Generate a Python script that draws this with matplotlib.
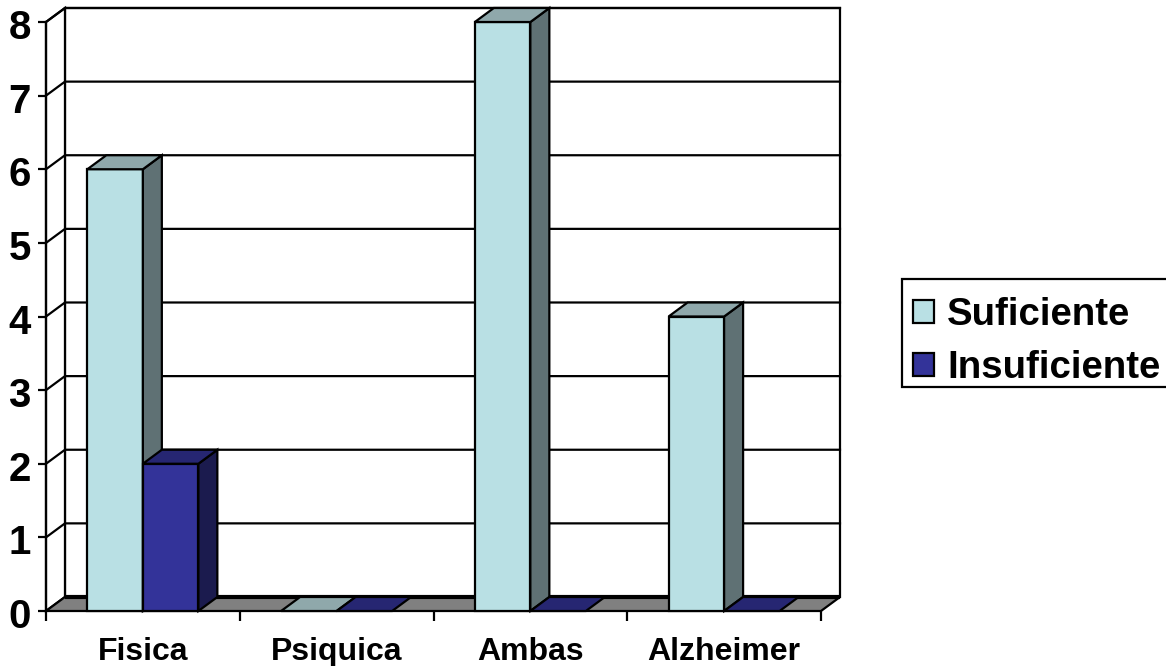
"""Clustered 3D-look column chart drawn on a plain 2D axes."""

import matplotlib
matplotlib.use("Agg")
import numpy as np
import matplotlib.pyplot as plt
from matplotlib.patches import Patch, Polygon, Rectangle
from matplotlib.transforms import ScaledTranslation

categories = ["Fisica", "Psiquica", "Ambas", "Alzheimer"]
series_names = ["Suficiente", "Insuficiente"]
suficiente = [6, 0, 8, 4]
insuficiente = [2, 0, 0, 0]
y_ticks = [0, 1, 2, 3, 4, 5, 6, 7, 8]

W, H = 1166, 666
# depth offset of the back wall, in data units
DX = 19 / 194
DY = 14 / 73.6
BAR_W = 0.2865
EDGE = "black"
LW = 1.6

plt.rcParams["font.family"] = ["Liberation Sans", "DejaVu Sans"]
plt.rcParams["font.weight"] = "bold"

fig = plt.figure(figsize=(W / 100, H / 100), dpi=100)
ax = fig.add_axes([46 / W, 1 - 611 / H, (821 - 46) / W, (611 - 22) / H])
ax.set_xlim(0, 4)
ax.set_ylim(0, 8)
ax.patch.set_visible(False)
for s in ["top", "right", "bottom"]:
    ax.spines[s].set_visible(False)
ax.spines["left"].set_linewidth(LW)


def poly(points, color, z=3, lw=LW):
    ax.add_patch(Polygon(points, closed=True, facecolor=color, edgecolor=EDGE,
                         linewidth=lw, zorder=z, clip_on=False,
                         joinstyle="miter"))


# walls and floor
poly([(DX, DY), (4 + DX, DY), (4 + DX, 8 + DY), (DX, 8 + DY)], "white", z=1)
poly([(0, 0), (DX, DY), (DX, 8 + DY), (0, 8)], "white", z=1)
poly([(0, 0), (4, 0), (4 + DX, DY), (DX, DY)], "#808080", z=1)
ax.plot([DX, 4 + DX], [DY, DY], color=EDGE, lw=3, zorder=1.5,
        solid_capstyle="butt", clip_on=False)

# gridlines run along the side wall and across the back wall
for v in y_ticks[1:]:
    ax.plot([0, DX, 4 + DX], [v, v + DY, v + DY], color=EDGE, lw=LW, zorder=2,
            clip_on=False)


def column(x, v, front, top, side, z):
    if v > 0:
        ax.add_patch(Rectangle((x, 0), BAR_W, v, facecolor=front, edgecolor=EDGE,
                               linewidth=LW, zorder=z, clip_on=False))
        poly([(x + BAR_W, 0), (x + BAR_W + DX, DY), (x + BAR_W + DX, v + DY),
              (x + BAR_W, v)], side, z=z)
    poly([(x, v), (x + BAR_W, v), (x + BAR_W + DX, v + DY), (x + DX, v + DY)],
         top, z=z)


light = ("#B9E0E4", "#8FA8AB", "#5F7174")
dark = ("#333399", "#262672", "#1B1B4E")
xs = np.arange(len(categories))
for i in xs:
    x0 = i + 0.5 - BAR_W
    column(x0, suficiente[i], *light, z=3)
    column(x0 + BAR_W, insuficiente[i], *dark, z=4)

ax.set_yticks(y_ticks)
ax.set_xticks(range(len(categories) + 1))
ax.set_xticklabels([])
ax.set_xticks(xs + 0.5, categories, minor=True)
ax.tick_params(axis="y", length=6, width=LW, labelsize=29, pad=5)
ax.tick_params(axis="x", which="major", length=7, width=LW)
ax.tick_params(axis="x", which="minor", length=0, labelsize=23, pad=19)

# digits sit a little below their ticks
nudge = ScaledTranslation(0, -2 / 100, fig.dpi_scale_trans)
for lab in ax.get_yticklabels():
    lab.set_transform(lab.get_transform() + nudge)

# legend box runs off the right edge, so it is drawn apart from the entries
fig.add_artist(Rectangle((902 / W, 1 - 387 / H), 300 / W, 108 / H,
                         transform=fig.transFigure, facecolor="white",
                         edgecolor=EDGE, linewidth=LW))
handles = [Patch(facecolor=light[0], edgecolor=EDGE, linewidth=LW),
           Patch(facecolor=dark[0], edgecolor=EDGE, linewidth=LW)]
leg = fig.legend(handles, series_names, loc="upper left",
                 bbox_to_anchor=(902 / W, 1 - 286 / H), borderaxespad=0,
                 fontsize=27.6, frameon=False,
                 handlelength=0.55, handleheight=0.55, handletextpad=0.34,
                 labelspacing=0.44, borderpad=0.29)

fig.savefig("out.png", dpi=100)
